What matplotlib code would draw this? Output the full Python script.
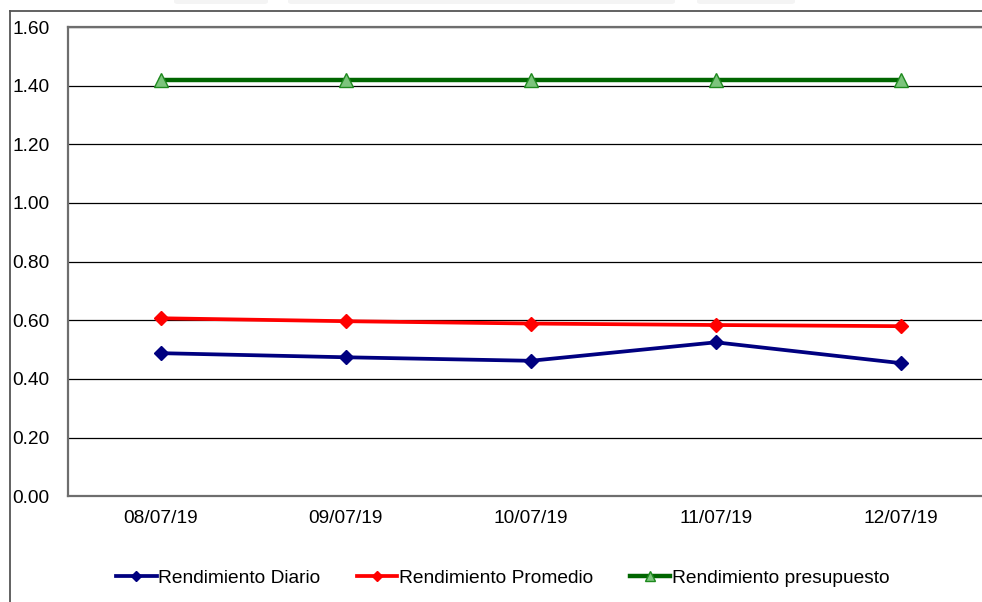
import matplotlib
matplotlib.use("Agg")
import matplotlib.pyplot as plt
from matplotlib.lines import Line2D
from matplotlib.patches import FancyBboxPatch
from matplotlib.ticker import FormatStrFormatter

plt.rcParams['font.family'] = ['Liberation Sans', 'DejaVu Sans']

fechas = ["08/07/19", "09/07/19", "10/07/19", "11/07/19", "12/07/19"]
rend_diario = [0.488, 0.474, 0.462, 0.525, 0.454]
rend_promedio = [0.607, 0.597, 0.589, 0.584, 0.580]
rend_presupuesto = [1.42, 1.42, 1.42, 1.42, 1.42]
y_ticks = [0.0, 0.2, 0.4, 0.6, 0.8, 1.0, 1.2, 1.4, 1.6]

W, H = 982, 602
fig = plt.figure(figsize=(W / 100, H / 100), dpi=100)
fs = 13.8

# plot area (extends slightly past the right edge of the canvas)
left, right, top, bottom = 68, 993.5, 27, 496.3
ax = fig.add_axes([left / W, (H - bottom) / H, (right - left) / W, (bottom - top) / H])

x = list(range(len(fechas)))
ax.plot(x, rend_diario, color="#000080", lw=2.7, marker="D", ms=7,
        mfc="#000080", mec="#000080", label="Rendimiento Diario", zorder=4)
ax.plot(x, rend_promedio, color="#ff0000", lw=2.7, marker="D", ms=7,
        mfc="#ff0000", mec="#ff0000", label="Rendimiento Promedio", zorder=4)
ax.plot(x, rend_presupuesto, color="#006600", lw=3.2, marker="^", ms=10,
        mfc="#7cc47c", mec="#1e8a1e", mew=1.0, label="Rendimiento presupuesto", zorder=4)

ax.set_xlim(-0.5, len(fechas) - 0.5)
ax.set_ylim(0, 1.6)
ax.set_yticks(y_ticks)
ax.yaxis.set_major_formatter(FormatStrFormatter("%.2f"))
ax.set_xticks(x)
ax.set_xticklabels(fechas)

ax.grid(axis="y", color="#000000", lw=0.9)
ax.set_axisbelow(True)
ax.tick_params(axis="y", length=0, pad=40, labelsize=fs, colors="#000000")
ax.tick_params(axis="x", length=0, pad=10, labelsize=fs, colors="#000000")
for lab in ax.get_yticklabels():
    lab.set_horizontalalignment("left")

for side in ["left", "top", "bottom"]:
    ax.spines[side].set_color("#6e6e6e")
    ax.spines[side].set_linewidth(1.6)
ax.spines["right"].set_visible(False)

# outer chart frame
fig.add_artist(Line2D([10 / W, 10 / W], [0, 1 - 11 / H], transform=fig.transFigure,
                      color="#555555", lw=1.3))
fig.add_artist(Line2D([10 / W, 1.02], [1 - 11 / H, 1 - 11 / H], transform=fig.transFigure,
                      color="#555555", lw=1.3))

# faint toolbar shapes along the top edge
for x0, x1 in [(174, 268), (288, 675), (697, 795)]:
    fig.add_artist(FancyBboxPatch((x0 / W, 1 - 4 / H), (x1 - x0) / W, 8 / H,
                                  boxstyle="round,pad=0,rounding_size=0.004",
                                  transform=fig.transFigure, fc="#f4f4f4", ec="none"))

leg = fig.legend(loc="center", bbox_to_anchor=(503 / W, 1 - 578 / H), ncol=3, frameon=False,
                 fontsize=fs, handlelength=2.1, handletextpad=0.1, columnspacing=1.9,
                 borderaxespad=0, markerscale=0.75)

fig.savefig("out.png", dpi=100)
